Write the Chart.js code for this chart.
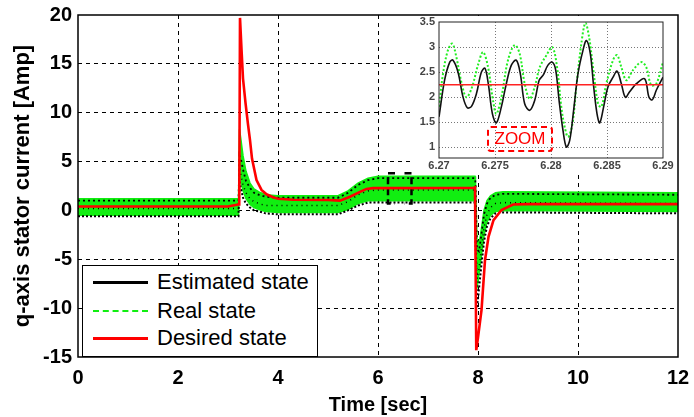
<!DOCTYPE html>
<html><head><meta charset="utf-8">
<script src="https://cdn.jsdelivr.net/npm/chart.js@4.4.1/dist/chart.umd.min.js"></script>
<style>
html,body{margin:0;padding:0;background:#fff;}
#wrap{position:relative;width:694px;height:417px;overflow:hidden;font-family:"Liberation Sans",Arial,sans-serif;}
#main{position:absolute;left:0;top:0;}
#insetBox{position:absolute;left:413px;top:16px;width:262px;height:156px;background:#fff;}
#inset{position:absolute;left:0;top:0;}
#zoomTag{position:absolute;left:487px;top:126px;width:66px;height:26px;box-sizing:border-box;border:2px dashed #f00;border-radius:4px;color:#f00;font-size:17px;line-height:22px;text-align:center;}
#legend{position:absolute;left:82px;top:265px;width:236px;height:92px;box-sizing:border-box;border:1.5px solid #000;background:#fff;}
.row{position:absolute;left:0;width:230px;height:26px;}
.sample{position:absolute;left:10px;width:55px;top:12px;}
.txt{position:absolute;left:74px;top:0;font-size:22px;line-height:26px;color:#000;white-space:nowrap;}
</style></head>
<body>
<div id="wrap">
  <canvas id="main" width="694" height="417"></canvas>
  <div id="insetBox"><canvas id="inset" width="262" height="156"></canvas></div>
  <div id="zoomTag">ZOOM</div>
  <div id="legend">
    <div class="row" style="top:3px"><div class="sample" style="border-top:3px solid #000"></div><div class="txt">Estimated state</div></div>
    <div class="row" style="top:32px"><div class="sample" style="border-top:2px dashed #11ee11"></div><div class="txt">Real state</div></div>
    <div class="row" style="top:59px"><div class="sample" style="border-top:3px solid #ff0000"></div><div class="txt">Desired state</div></div>
  </div>
</div>
<script>
// ---------- main chart data ----------
const xTicks = [0, 2, 4, 6, 8, 10, 12];
const xTickLabels = ['0', '2', '4', '6', '8', '10', '12'];
const yTicks = [-15, -10, -5, 0, 5, 10, 15, 20];
const yTickLabels = ['-15', '-10', '-5', '0', '5', '10', '15', '20'];

const tDesired = [0, 3.0, 3.1, 3.2, 3.225, 3.24, 3.27, 3.3, 3.35, 3.4, 3.44, 3.48, 3.57, 3.67, 3.77, 3.9, 4.0, 4.3, 5.0, 5.24, 5.44, 5.64, 5.77, 5.9, 7.9, 7.94, 7.965, 8.0, 8.07, 8.14, 8.21, 8.31, 8.47, 8.7, 9.0, 12];
const desired  = [0.4, 0.4, 0.5, 0.6, 0.6, 19.7, 16.5, 13.5, 11.0, 8.8, 7.2, 5.3, 3.1, 2.1, 1.65, 1.35, 1.2, 1.1, 1.07, 1.0, 1.4, 1.9, 2.2, 2.28, 2.3, 2.35, -14.3, -13.0, -10.2, -5.1, -2.7, -1.0, 0.04, 0.6, 0.65, 0.65];

const tBand     = [0, 3.21, 3.23, 3.26, 3.3, 3.36, 3.44, 3.52, 3.62, 3.75, 4.0, 5.2, 5.4, 5.6, 5.8, 6.0, 7.94, 7.95, 7.98, 8.02, 8.07, 8.12, 8.18, 8.25, 8.35, 8.5, 12];
const realUpper = [1.2, 1.2, 8.3, 7.2, 5.6, 4.0, 2.8, 2.2, 1.9, 1.6, 1.5, 1.5, 2.0, 2.8, 3.3, 3.5, 3.5, 3.0, -3.0, -3.5, -1.8, 0.0, 1.0, 1.5, 1.8, 1.9, 1.8];
const realLower = [-0.5, -0.5, 3.8, 3.0, 2.0, 1.2, 0.6, 0.3, 0.1, -0.1, -0.2, -0.2, 0.1, 0.7, 1.0, 1.0, 1.0, -2.0, -8.0, -6.5, -4.5, -2.6, -1.2, -0.5, -0.1, 0.0, -0.1];
const estUpper  = [1.0, 1.0, 5.6, 5.2, 4.2, 3.0, 2.3, 1.8, 1.6, 1.4, 1.3, 1.3, 1.8, 2.6, 3.1, 3.3, 3.3, 2.8, -4.0, -4.2, -2.4, -0.4, 0.7, 1.3, 1.6, 1.7, 1.6];
const estMid    = [0.2, 0.2, 4.5, 3.6, 2.6, 1.8, 1.2, 0.9, 0.7, 0.5, 0.5, 0.5, 0.9, 1.6, 2.0, 2.1, 2.1, 0.5, -7.0, -6.0, -3.8, -1.8, -0.4, 0.3, 0.7, 0.8, 0.7];
const estLower  = [-0.6, -0.6, 3.0, 2.2, 1.3, 0.7, 0.3, 0.0, -0.1, -0.3, -0.4, -0.4, 0.0, 0.5, 0.8, 0.8, 0.8, -2.5, -10.0, -8.0, -5.5, -3.2, -1.6, -0.8, -0.3, -0.2, -0.3];

// zoom bracket marker on the main plot
const zoomMarkT = [6.2, 6.34, 6.53, 6.67];
const zoomMarkV = [0.7, 3.8];

// ---------- inset data ----------
const insetXTicks = [6.27, 6.275, 6.28, 6.285, 6.29];
const insetXTickLabels = ['6.27', '6.275', '6.28', '6.285', '6.29'];
const insetYTicks = [1, 1.5, 2, 2.5, 3, 3.5];
const insetYTickLabels = ['1', '1.5', '2', '2.5', '3', '3.5'];

const tEst = [6.27, 6.2705, 6.27096, 6.27125, 6.2717, 6.27215, 6.27253, 6.2729, 6.27334, 6.27378, 6.2741, 6.2744, 6.27477, 6.27512, 6.27557, 6.27601, 6.27646, 6.2769, 6.27726, 6.27765, 6.2781, 6.27855, 6.27894, 6.2793, 6.27973, 6.28012, 6.28042, 6.28072, 6.28107, 6.28137, 6.28167, 6.28202, 6.28241, 6.28286, 6.28316, 6.28351, 6.28381, 6.28411, 6.28435, 6.2847, 6.28509, 6.28554, 6.2859, 6.28628, 6.28664, 6.28702, 6.28762, 6.28836, 6.28875, 6.28905, 6.2894, 6.29];
const estZoom = [1.61, 2.34, 2.70, 2.74, 2.50, 2.0, 1.79, 1.82, 2.07, 2.50, 2.58, 2.27, 1.67, 1.49, 1.81, 2.27, 2.64, 2.74, 2.47, 1.87, 1.74, 1.94, 2.34, 2.44, 2.64, 2.70, 2.54, 1.94, 1.34, 1.01, 1.14, 1.74, 2.47, 2.94, 3.13, 2.87, 2.21, 1.67, 1.49, 1.81, 2.21, 2.40, 2.52, 2.27, 2.0, 2.11, 2.27, 2.37, 2.0, 1.95, 2.14, 2.40];
const tReal = [6.27, 6.27036, 6.2708, 6.27119, 6.27155, 6.272, 6.27244, 6.2729, 6.27348, 6.27393, 6.27438, 6.27482, 6.27512, 6.27557, 6.27616, 6.27676, 6.2772, 6.27765, 6.2781, 6.27855, 6.279, 6.2796, 6.28012, 6.28054, 6.28092, 6.28122, 6.28152, 6.28191, 6.28226, 6.28271, 6.28307, 6.2834, 6.28375, 6.2842, 6.2845, 6.28494, 6.28554, 6.2859, 6.28628, 6.28673, 6.28732, 6.28806, 6.2885, 6.28895, 6.2894, 6.29];
const realZoom = [1.81, 2.47, 2.94, 3.07, 2.80, 2.30, 2.0, 2.17, 2.64, 2.90, 2.60, 1.94, 1.67, 2.0, 2.74, 3.04, 2.87, 2.27, 1.97, 2.21, 2.60, 2.84, 3.0, 2.60, 1.81, 1.41, 1.21, 1.47, 2.21, 3.07, 3.48, 3.20, 2.60, 1.87, 1.81, 2.27, 2.74, 2.84, 2.60, 2.34, 2.54, 2.70, 2.60, 2.24, 2.27, 2.70];
const tDesiredZoom = [6.27, 6.29];
const desiredZoom = [2.25, 2.25];

// ---------- helpers ----------
const pts = (xs, ys) => xs.map((x, i) => ({x: x, y: ys[i]}));
const FONT = '"Liberation Sans", Arial, sans-serif';
const framePlugin = (w, col) => ({
  id: 'frame',
  afterDraw(chart) {
    const a = chart.chartArea, c = chart.ctx;
    c.save(); c.strokeStyle = col; c.lineWidth = w;
    c.strokeRect(a.left, a.top, a.right - a.left, a.bottom - a.top);
    c.restore();
  }
});
const hideEdge = (lo, hi, col) => (ctx) => {
  const v = ctx.tick ? ctx.tick.value : null;
  return (v === lo || v === hi) ? 'rgba(0,0,0,0)' : col;
};
const fixH = (h) => (s) => { s.height = h; s.paddingLeft = 0; s.paddingRight = 0; };
const fixW = (w) => (s) => { s.width = w; s.paddingTop = 0; s.paddingBottom = 0; };

// ---------- main chart ----------
new Chart(document.getElementById('main'), {
  type: 'line',
  data: {
    datasets: [
      {label: 'Desired state', data: pts(tDesired, desired), borderColor: '#ff0000', borderWidth: 2.6, pointRadius: 0, tension: 0, fill: false},
      {label: 'markL', data: [{x: zoomMarkT[1], y: zoomMarkV[1]}, {x: zoomMarkT[0], y: zoomMarkV[1]}, {x: zoomMarkT[0], y: zoomMarkV[0]}, {x: zoomMarkT[1], y: zoomMarkV[0]}], borderColor: '#000', borderWidth: 2.5, borderDash: [7, 4], pointRadius: 0, tension: 0, fill: false},
      {label: 'markR', data: [{x: zoomMarkT[2], y: zoomMarkV[1]}, {x: zoomMarkT[3], y: zoomMarkV[1]}, {x: zoomMarkT[3], y: zoomMarkV[0]}, {x: zoomMarkT[2], y: zoomMarkV[0]}], borderColor: '#000', borderWidth: 2.5, borderDash: [7, 4], pointRadius: 0, tension: 0, fill: false},
      {label: 'Estimated state', data: pts(tBand, estUpper), borderColor: '#000', borderWidth: 1.8, borderDash: [2, 3], pointRadius: 0, tension: 0, fill: false},
      {label: 'est mid', data: pts(tBand, estMid), borderColor: '#000', borderWidth: 1.5, borderDash: [1, 4], pointRadius: 0, tension: 0, fill: false},
      {label: 'est low', data: pts(tBand, estLower), borderColor: '#000', borderWidth: 2, borderDash: [2, 2], pointRadius: 0, tension: 0, fill: false},
      {label: 'Real state', data: pts(tBand, realUpper), borderColor: '#11ee11', backgroundColor: '#11ee11', borderWidth: 1.5, pointRadius: 0, tension: 0, fill: '+1'},
      {label: 'real low', data: pts(tBand, realLower), borderColor: '#11ee11', borderWidth: 1.5, pointRadius: 0, tension: 0, fill: false}
    ]
  },
  options: {
    responsive: false, animation: false, devicePixelRatio: 1,
    layout: {padding: {top: 15, right: 16, left: 0, bottom: 0}},
    plugins: {legend: {display: false}, tooltip: {enabled: false}},
    scales: {
      x: {
        type: 'linear', min: 0, max: 12,
        afterBuildTicks: (s) => { s.ticks = xTicks.map(v => ({value: v})); },
        afterFit: fixH(60),
        ticks: {autoSkip: false, maxRotation: 0, padding: 9, color: '#000', font: {family: FONT, size: 20, weight: 'bold'}, callback: (v, i) => xTickLabels[i]},
        grid: {color: hideEdge(0, 12, '#000'), lineWidth: 1, drawTicks: false},
        border: {display: false, dash: [4, 4]},
        title: {display: true, text: 'Time [sec]', color: '#000', font: {family: FONT, size: 20, weight: 'bold'}, padding: {top: 0, bottom: 0}}
      },
      y: {
        type: 'linear', min: -15, max: 20,
        afterBuildTicks: (s) => { s.ticks = yTicks.map(v => ({value: v})); },
        afterFit: fixW(78),
        ticks: {autoSkip: false, padding: 6, color: '#000', font: {family: FONT, size: 20, weight: 'bold'}, callback: (v, i) => yTickLabels[i]},
        grid: {color: hideEdge(-15, 20, '#000'), lineWidth: 1, drawTicks: false},
        border: {display: false, dash: [4, 4]},
        title: {display: true, text: 'q-axis stator current [Amp]', color: '#000', font: {family: FONT, size: 22, weight: 'bold'}, padding: {top: 10, bottom: 0}}
      }
    }
  },
  plugins: [framePlugin(1.5, '#000')]
});

// ---------- inset chart ----------
new Chart(document.getElementById('inset'), {
  type: 'line',
  data: {
    datasets: [
      {label: 'Desired state', data: pts(tDesiredZoom, desiredZoom), borderColor: '#ff2222', borderWidth: 1.6, pointRadius: 0, fill: false},
      {label: 'Estimated state', data: pts(tEst, estZoom), borderColor: '#111', borderWidth: 1.6, pointRadius: 0, tension: 0.35, fill: false},
      {label: 'Real state', data: pts(tReal, realZoom), borderColor: '#22ee22', borderWidth: 2, borderDash: [2, 2], pointRadius: 0, tension: 0.35, fill: false}
    ]
  },
  options: {
    responsive: false, animation: false, devicePixelRatio: 1,
    layout: {padding: {top: 6, right: 12, left: 0, bottom: 0}},
    plugins: {legend: {display: false}, tooltip: {enabled: false}},
    scales: {
      x: {
        type: 'linear', min: 6.27, max: 6.29,
        afterBuildTicks: (s) => { s.ticks = insetXTicks.map(v => ({value: v})); },
        afterFit: fixH(14),
        ticks: {autoSkip: false, maxRotation: 0, padding: 1, color: '#444', font: {family: FONT, size: 11, weight: 'bold'}, callback: (v, i) => insetXTickLabels[i]},
        grid: {color: hideEdge(6.27, 6.29, '#777'), lineWidth: 1, drawTicks: false},
        border: {display: false, dash: [1, 2]}
      },
      y: {
        type: 'linear', min: 0.79, max: 3.5,
        afterBuildTicks: (s) => { s.ticks = insetYTicks.map(v => ({value: v})); },
        afterFit: fixW(26),
        ticks: {autoSkip: false, padding: 4, color: '#444', font: {family: FONT, size: 11, weight: 'bold'}, callback: (v, i) => insetYTickLabels[i]},
        grid: {color: hideEdge(0.79, 3.5, '#777'), lineWidth: 1, drawTicks: false},
        border: {display: false, dash: [1, 2]}
      }
    }
  },
  plugins: [framePlugin(1, '#222')]
});
</script>
</body></html>
